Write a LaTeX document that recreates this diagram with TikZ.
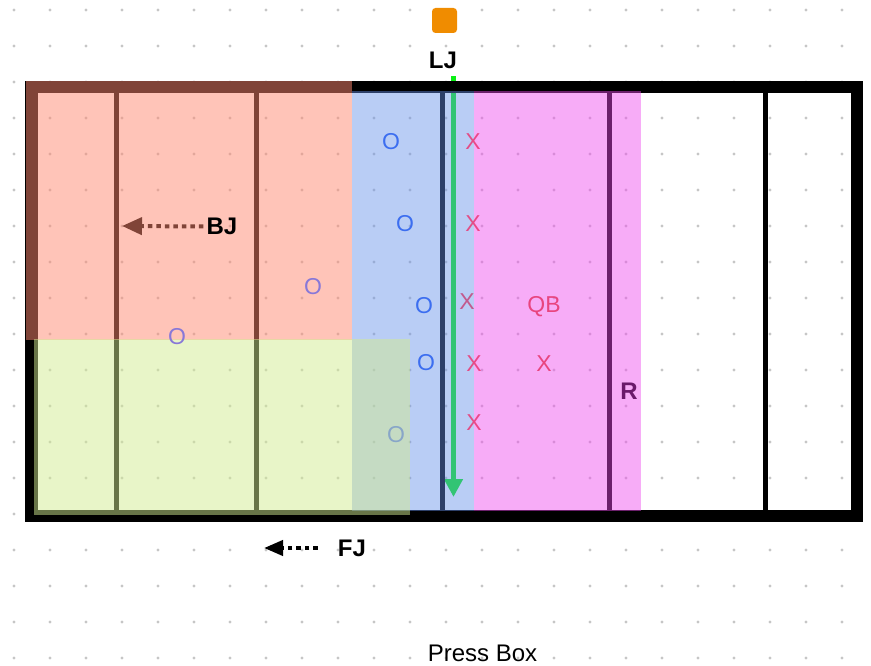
\documentclass[tikz,border=0pt]{standalone}
\usepackage{fontspec}
\setmainfont{Liberation Sans}
\usetikzlibrary{arrows.meta}
\pgfdeclarelayer{grid}
\pgfdeclarelayer{field}
\pgfdeclarelayer{tint}
\pgfsetlayers{grid,field,tint,main}
\definecolor{dotc}{RGB}{198,198,198}
\definecolor{salmonov}{RGB}{255,137,113}
\definecolor{greenov}{RGB}{209,235,145}
\definecolor{blueov}{RGB}{100,144,233}
\definecolor{pinkov}{RGB}{238,71,238}
\definecolor{ljgreen}{RGB}{10,240,20}
\definecolor{sqorange}{RGB}{240,140,0}
\definecolor{oblue}{RGB}{60,110,240}
\definecolor{opurple}{RGB}{136,120,216}
\definecolor{ofaded}{RGB}{136,166,200}
\definecolor{xpink}{RGB}{232,60,120}
\definecolor{xmuted}{RGB}{194,90,142}
\definecolor{qbpink}{RGB}{232,69,127}
\definecolor{rpurple}{RGB}{106,26,106}
\begin{document}
\begin{tikzpicture}[x=1pt,y=-1pt,
  lbl/.style={font=\fontsize{24}{24}\selectfont\bfseries, inner sep=0pt},
  pl/.style={font=\fontsize{23}{23}\selectfont, inner sep=0pt},
  xm/.style={pl, text=xpink, text opacity=0.88},
  sq/.style={rectangle, rounded corners=3.5pt, minimum size=25pt, inner sep=0pt, fill=sqorange},
  dotarrow/.style={line width=4pt, dash pattern=on 4.5pt off 4pt},
  ljarrow/.style={draw=ljgreen, line width=5pt, -{Triangle[length=18pt,width=18pt]}},
  frame/.style={line width=12.5pt},
  yard/.style={line width=4.5pt}
]
\useasboundingbox (0,0) rectangle (871,666);

% labels and marks
\node[sq] (ljsq) at (444.5,20.5) {};
\node[lbl] (LJ) at (443,60) {LJ};
\node[lbl] (BJ) at (222,226.5) {BJ};
\node[lbl] (FJ) at (352,548) {FJ};
\node[lbl, text=rpurple] (R) at (629,391) {R};
\node[pl, text=qbpink] (QB) at (544,307) {QB};
\node[pl, text=oblue] (o1) at (391,142) {O};
\node[pl, text=oblue] (o2) at (405,224) {O};
\node[pl, text=oblue] (o3) at (424,306) {O};
\node[pl, text=oblue] (o4) at (426,363) {O};
\node[pl, text=ofaded] (o5) at (396,435) {O};
\node[pl, text=opurple] (o6) at (313,287) {O};
\node[pl, text=opurple] (o7) at (177,337) {O};
\node[xm] (x1) at (473,142) {X};
\node[xm] (x2) at (473,224) {X};
\node[pl, text=xmuted] (x3) at (467,302) {X};
\node[xm] (x4) at (474,364) {X};
\node[pl, text=qbpink] (x5) at (544,364) {X};
\node[xm] (x6) at (474,423) {X};
\node[font=\fontsize{24}{24}\selectfont, inner sep=0pt] (pb) at (482.5,653.5) {Press Box};

\coordinate (bjtip) at (122,226);
\coordinate (fjtip) at (264,548);
\coordinate (ljtip) at (453.5,497);

% FJ arrow (outside the field)
\draw[dotarrow, -{Triangle[length=19pt,width=15pt]}] ([xshift=-20pt]FJ.west) -- (fjtip);

% dot grid
\begin{pgfonlayer}{grid}
\foreach \i in {0,...,23}
  \foreach \j in {0,...,18}
    \fill[dotc] ({14+36*\i},{10+36*\j}) circle (1.6pt);
\end{pgfonlayer}

% field
\begin{pgfonlayer}{field}
\draw[ljarrow] ([yshift=-7.5pt]LJ.south -| ljtip) -- (ljtip);
\draw[frame] (31.25,87.25) rectangle (856.75,515.75);
\foreach \x in {116.5,256.5,442.5,609.5,765.5}
  \draw[yard] (\x,87) -- (\x,516);
\draw[dotarrow, -{Triangle[length=20pt,width=17pt]}] ([xshift=-3pt]BJ.west) -- (bjtip);
\end{pgfonlayer}

% zone tints
\begin{pgfonlayer}{tint}
\fill[salmonov, fill opacity=0.5] (26,81) rectangle (352,340);
\fill[blueov, fill opacity=0.45] (352,91) rectangle (474,511);
\fill[pinkov, fill opacity=0.45] (474,91) rectangle (641,511);
\fill[greenov, fill opacity=0.5] (34,339) rectangle (410,515);
\end{pgfonlayer}
\end{tikzpicture}
\end{document}
